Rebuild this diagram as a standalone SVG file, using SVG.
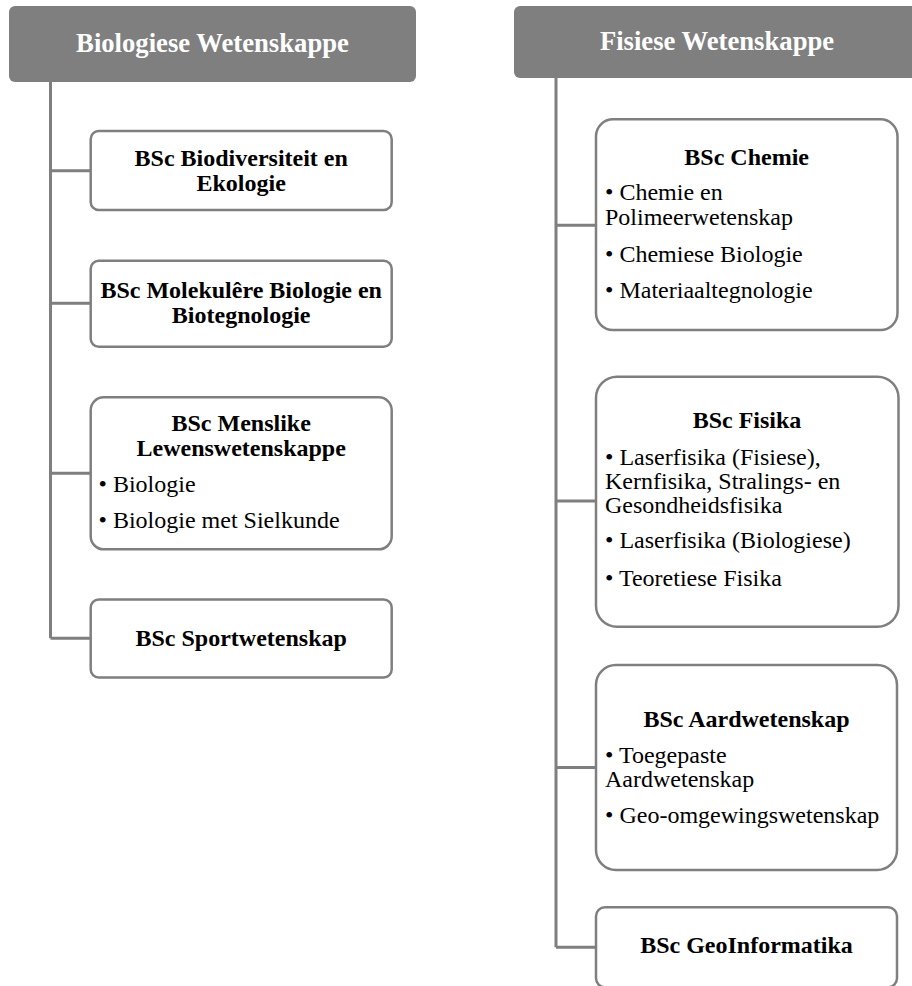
<svg xmlns="http://www.w3.org/2000/svg" width="912" height="986" viewBox="0 0 912 986">
<style>
.hdr{fill:#7f7f7f}
.hdrt{font-family:"Liberation Serif","Times New Roman",serif;font-size:26.67px;font-weight:bold;fill:#ffffff;text-anchor:middle}
.box{fill:#ffffff;stroke:#7f7f7f;stroke-width:2.5}
.ttl{font-family:"Liberation Serif","Times New Roman",serif;font-size:24px;font-weight:bold;fill:#000000;text-anchor:middle}
.itm{font-family:"Liberation Serif","Times New Roman",serif;font-size:24px;fill:#000000}
.con{fill:none;stroke:#7f7f7f;stroke-width:3}
</style>
<rect width="912" height="986" fill="#ffffff"/>
<g id="connectors">
<path class="con" d="M50.5,82 V638.3 M50.5,170.7 H90.7 M50.5,303.3 H90.7 M50.5,473.3 H90.7 M50.5,638.3 H90.7"/>
<path class="con" d="M556,78 V947.3 M556,225.3 H596 M556,501 H596 M556,767.5 H596 M556,947.3 H596"/>
</g>
<g id="hdr-bio">
<rect class="hdr" x="9" y="6" width="407" height="76" rx="6"/>
<text class="hdrt" x="212.5" y="52">Biologiese Wetenskappe</text>
</g>
<g id="hdr-fis">
<rect class="hdr" x="514" y="6" width="410" height="72" rx="6"/>
<text class="hdrt" x="717" y="50">Fisiese Wetenskappe</text>
</g>
<g id="n-biodiv">
<rect class="box" x="90.7" y="131" width="301" height="79" rx="8"/>
<text class="ttl" x="241.2" y="166">BSc Biodiversiteit en<tspan x="241.2" y="191">Ekologie</tspan></text>
</g>
<g id="n-molbio">
<rect class="box" x="90.7" y="260.7" width="301" height="86" rx="8"/>
<text class="ttl" x="241.2" y="297.5">BSc Molekulêre Biologie en<tspan x="241.2" y="322.5">Biotegnologie</tspan></text>
</g>
<g id="n-menslike">
<rect class="box" x="90.7" y="397.3" width="301" height="152" rx="13"/>
<text class="ttl" x="241.2" y="431">BSc Menslike<tspan x="241.2" y="456">Lewenswetenskappe</tspan></text>
<text class="itm" x="98.5" y="491.7">• Biologie</text>
<text class="itm" x="98.5" y="527.8">• Biologie met Sielkunde</text>
</g>
<g id="n-sport">
<rect class="box" x="90.7" y="599.5" width="301" height="78" rx="8"/>
<text class="ttl" x="241.2" y="646">BSc Sportwetenskap</text>
</g>
<g id="n-chemie">
<rect class="box" x="596" y="119.3" width="301.5" height="210.7" rx="17"/>
<text class="ttl" x="746.7" y="165">BSc Chemie</text>
<text class="itm" x="605" y="200">• Chemie en<tspan x="605" y="225.3">Polimeerwetenskap</tspan></text>
<text class="itm" x="605" y="261.7">• Chemiese Biologie</text>
<text class="itm" x="605" y="297.7">• Materiaaltegnologie</text>
</g>
<g id="n-fisika">
<rect class="box" x="596" y="376.7" width="302.5" height="250" rx="21"/>
<text class="ttl" x="747" y="428.3">BSc Fisika</text>
<text class="itm" x="605" y="464.7">• Laserfisika (Fisiese),<tspan x="605" y="489">Kernfisika, Stralings- en</tspan><tspan x="605" y="512.5">Gesondheidsfisika</tspan></text>
<text class="itm" x="605" y="548.3">• Laserfisika (Biologiese)</text>
<text class="itm" x="605" y="585.8">• Teoretiese Fisika</text>
</g>
<g id="n-aard">
<rect class="box" x="596" y="665" width="301" height="205" rx="20"/>
<text class="ttl" x="746.5" y="727">BSc Aardwetenskap</text>
<text class="itm" x="605" y="763.3">• Toegepaste<tspan x="605" y="787">Aardwetenskap</tspan></text>
<text class="itm" x="605" y="823">• Geo-omgewingswetenskap</text>
</g>
<g id="n-geoinf">
<rect class="box" x="596" y="907.3" width="301" height="80" rx="9"/>
<text class="ttl" x="746.5" y="953.3">BSc GeoInformatika</text>
</g>
</svg>
